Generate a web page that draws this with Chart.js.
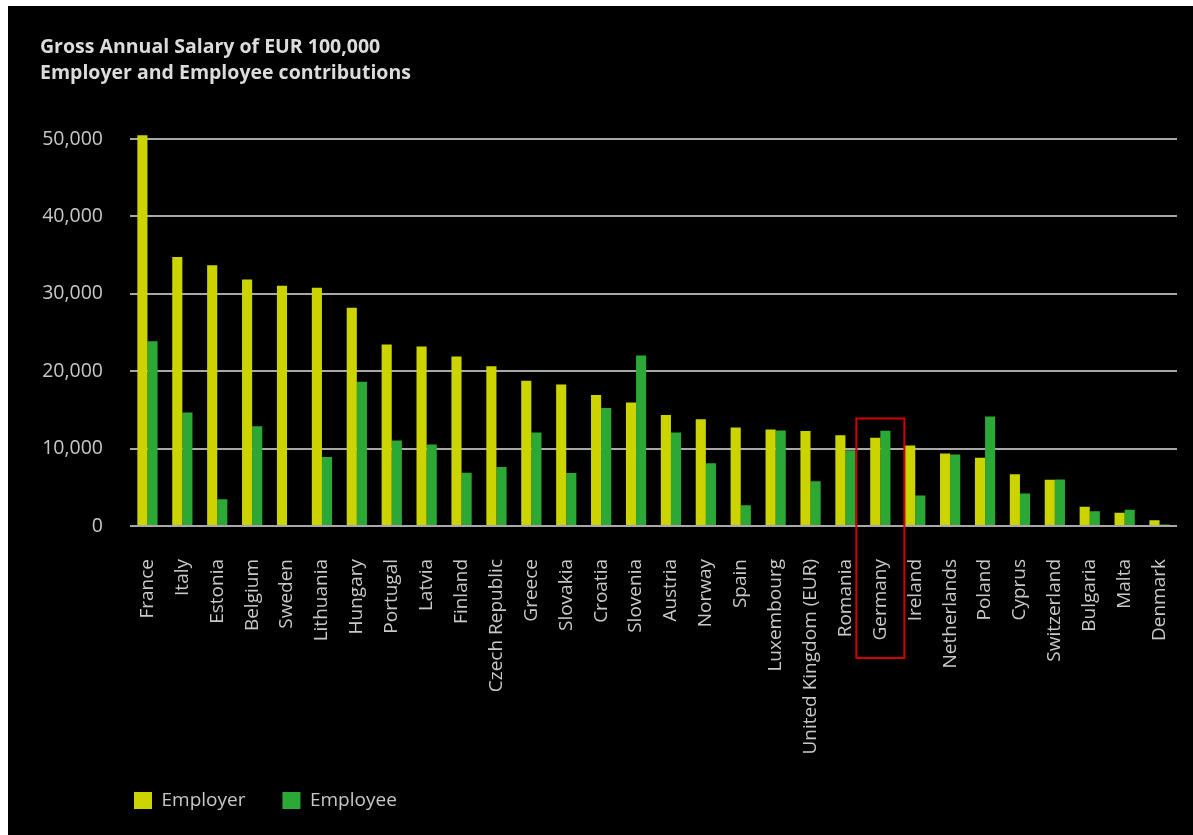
<!DOCTYPE html>
<html>
<head>
<meta charset="utf-8">
<script src="https://cdn.jsdelivr.net/npm/chart.js@4"></script>
<style>
    html, body { margin: 0; padding: 0; background: #fff; }
    #wrap { position: absolute; left: 8px; top: 6px; width: 1185px; height: 829px; background: #000; }
    canvas { display: block; }
</style>
</head>
<body>
<div id="wrap"><canvas id="salaryChart"></canvas></div>
<script>
const countries = ["France", "Italy", "Estonia", "Belgium", "Sweden", "Lithuania", "Hungary", "Portugal",
    "Latvia", "Finland", "Czech Republic", "Greece", "Slovakia", "Croatia", "Slovenia", "Austria", "Norway",
    "Spain", "Luxembourg", "United Kingdom (EUR)", "Romania", "Germany", "Ireland", "Netherlands", "Poland",
    "Cyprus", "Switzerland", "Bulgaria", "Malta", "Denmark"];
const employer = [50500, 34750, 33700, 31850, 31050, 30800, 28200, 23450, 23200, 21900, 20650, 18780, 18300,
    16920, 15970, 14330, 13810, 12730, 12470, 12260, 11740, 11400, 10400, 9360, 8810, 6690, 5980, 2500, 1720, 740];
const employee = [23870, 14680, 3450, 12900, 0, 8900, 18650, 11050, 10530, 6870, 7640, 12090, 6860,
    15240, 22020, 12090, 8120, 2680, 12340, 5790, 9800, 12300, 3930, 9230, 14160, 4190, 6000, 1900, 2110, 200];
const yTicks = [0, 10000, 20000, 30000, 40000, 50000];
const highlight = "Germany";

const canvas = document.getElementById("salaryChart");
canvas.width = 1185;
canvas.height = 829;
canvas.style.width = "1185px";
canvas.style.height = "829px";

// red box round the highlighted country, taken from the scales
const highlightBox = {
    id: "highlightBox",
    afterDraw(chart) {
        const x = chart.scales.x, y = chart.scales.y;
        const cx = x.getPixelForValue(countries.indexOf(highlight));
        const top = y.getPixelForValue(13900);
        const bottom = chart.chartArea.bottom + 132;
        const ctx = chart.ctx;
        ctx.save();
        ctx.strokeStyle = "#d40000";
        ctx.lineWidth = 2;
        ctx.strokeRect(cx - 24, top, 48, bottom - top);
        ctx.restore();
    }
};

// legend sits further right than the title
const shiftLegend = {
    id: "shiftLegend",
    afterLayout(chart) {
        chart.legend.left += 57;
        chart.legend.top -= 3;
    }
};

new Chart(canvas, {
    type: "bar",
    data: {
        labels: countries,
        datasets: [
            { label: "Employer", data: employer, backgroundColor: "#ccd400", borderWidth: 0 },
            { label: "Employee", data: employee, backgroundColor: "#2ca836", borderWidth: 0 }
        ]
    },
    options: {
        responsive: false,
        animation: false,
        layout: { padding: { left: 32, right: 16, top: 0, bottom: 12 } },
        categoryPercentage: 0.58,
        barPercentage: 1,
        scales: {
            x: {
                afterFit: (scale) => {
                    scale.height = 231;
                    scale.paddingLeft = 0;
                    scale.paddingRight = 0;
                },
                grid: { display: false, drawTicks: false },
                border: { display: false },
                ticks: {
                    color: "#c8c8c8",
                    font: { family: "Open Sans", size: 19 },
                    maxRotation: 90, minRotation: 90,
                    autoSkip: false, padding: 33
                }
            },
            y: {
                min: 0, max: 51000,
                afterBuildTicks: (scale) => {
                    scale.ticks = yTicks.map(v => ({ value: v }));
                },
                afterFit: (scale) => { scale.width = 90; },
                grid: { color: "#a8a8a8", lineWidth: 2, drawTicks: false },
                border: { display: false },
                ticks: {
                    color: "#c8c8c8",
                    font: { family: "Open Sans", size: 19.5 },
                    padding: 27,
                    callback: (v) => v.toLocaleString("en-US")
                }
            }
        },
        plugins: {
            title: {
                display: true,
                text: ["Gross Annual Salary of EUR 100,000", "Employer and Employee contributions"],
                align: "start",
                color: "#dcdcdc",
                font: { family: "Open Sans", size: 19.5, weight: "bold", lineHeight: 1.38 },
                padding: { top: 27.5, bottom: 44 }
            },
            legend: {
                position: "bottom",
                align: "start",
                labels: {
                    color: "#c8c8c8",
                    font: { family: "Open Sans", size: 19 },
                    boxWidth: 18, boxHeight: 17,
                    padding: 37
                }
            },
            tooltip: { enabled: false }
        }
    },
    plugins: [highlightBox, shiftLegend]
});
</script>
</body>
</html>
